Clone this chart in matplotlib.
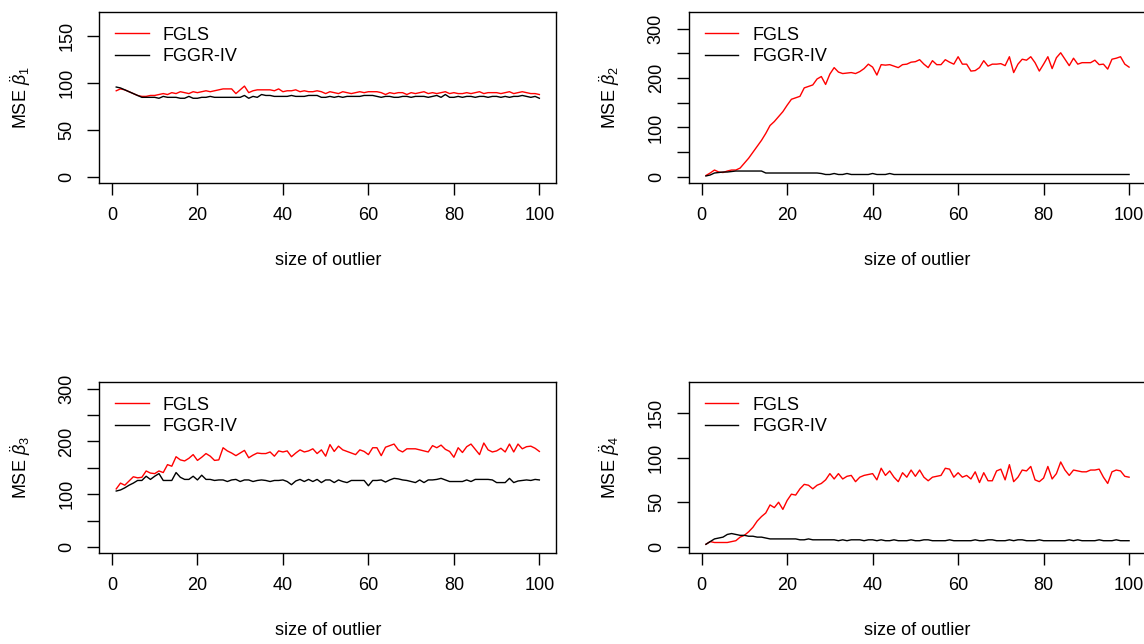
import matplotlib.pyplot as plt
import numpy as np

plt.rcParams['font.family'] = ['Liberation Sans', 'DejaVu Sans']
plt.rcParams['mathtext.fontset'] = 'custom'
plt.rcParams['mathtext.rm'] = 'Liberation Sans'
plt.rcParams['mathtext.it'] = 'Liberation Sans:italic'

# size of outlier 1..100
x = np.arange(1, 101)

fgls_b1 = [92, 94, 93, 91, 89, 87, 86, 86, 87, 87,
           88, 89, 88, 90, 89, 91, 90, 89, 91, 90,
           91, 92, 91, 92, 93, 94, 94, 94, 89, 93,
           97, 90, 92, 93, 93, 93, 93, 92, 94, 91,
           92, 92, 93, 91, 92, 91, 91, 92, 91, 89,
           91, 90, 89, 91, 90, 89, 90, 91, 90, 91,
           91, 91, 90, 88, 90, 89, 90, 90, 88, 90,
           89, 90, 91, 89, 90, 89, 90, 91, 89, 90,
           89, 89, 90, 89, 90, 91, 89, 90, 90, 90,
           89, 90, 91, 89, 90, 91, 90, 89, 89, 88]
fggr_b1 = [96, 95, 93, 91, 89, 87, 85, 85, 85, 85,
           84, 86, 85, 85, 85, 84, 84, 86, 84, 84,
           85, 85, 86, 85, 85, 85, 85, 85, 85, 85,
           87, 84, 86, 85, 88, 87, 87, 86, 86, 86,
           86, 87, 86, 86, 86, 87, 87, 87, 85, 85,
           86, 85, 86, 85, 86, 86, 86, 86, 87, 87,
           87, 86, 85, 86, 86, 85, 85, 86, 86, 85,
           86, 86, 86, 85, 86, 87, 85, 88, 85, 85,
           86, 85, 86, 86, 85, 86, 86, 85, 86, 86,
           85, 86, 85, 86, 86, 87, 86, 85, 86, 84]

fgls_b2 = [3, 8, 14, 10, 9, 12, 14, 14, 18, 28,
           38, 50, 62, 74, 88, 104, 112, 122, 132, 145,
           157, 160, 163, 180, 183, 186, 198, 203, 187, 208,
           221, 212, 209, 210, 211, 209, 213, 219, 228, 222,
           206, 227, 226, 227, 224, 221, 227, 228, 232, 233,
           237, 228, 221, 235, 227, 227, 237, 232, 228, 243,
           228, 228, 214, 215, 221, 235, 224, 228, 228, 229,
           225, 243, 211, 228, 238, 236, 243, 231, 214, 228,
           243, 219, 241, 251, 238, 225, 240, 228, 231, 231,
           231, 236, 227, 228, 218, 238, 240, 243, 228, 222]
fggr_b2 = [2, 4, 8, 9, 10, 10, 11, 12, 12, 12,
           12, 12, 12, 12, 8, 8, 8, 8, 8, 8,
           8, 8, 8, 8, 8, 8, 8, 7, 5, 5,
           7, 5, 5, 7, 5, 5, 5, 5, 5, 7,
           5, 5, 5, 7, 5, 5, 5, 5, 5, 5,
           5, 5, 5, 5, 5, 5, 5, 5, 5, 5,
           5, 5, 5, 5, 5, 5, 5, 5, 5, 5,
           5, 5, 5, 5, 5, 5, 5, 5, 5, 5,
           5, 5, 5, 5, 5, 5, 5, 5, 5, 5,
           5, 5, 5, 5, 5, 5, 5, 5, 5, 5]

fgls_b3 = [110, 121, 117, 125, 133, 131, 132, 144, 140, 139,
           144, 141, 156, 153, 171, 165, 163, 168, 175, 164,
           170, 177, 172, 164, 165, 188, 182, 178, 173, 178,
           183, 169, 174, 178, 177, 177, 180, 172, 182, 180,
           182, 171, 178, 184, 180, 182, 186, 177, 184, 172,
           194, 181, 191, 184, 181, 178, 175, 184, 181, 175,
           188, 188, 173, 189, 192, 195, 184, 180, 186, 186,
           186, 184, 182, 180, 192, 188, 193, 185, 181, 170,
           188, 179, 190, 195, 185, 175, 197, 184, 180, 182,
           187, 180, 195, 180, 195, 186, 190, 191, 187, 181]
fggr_b3 = [106, 108, 112, 117, 121, 126, 126, 134, 128, 134,
           139, 126, 126, 126, 141, 132, 128, 128, 134, 127,
           136, 128, 128, 126, 127, 127, 124, 127, 128, 124,
           127, 127, 124, 126, 127, 126, 124, 126, 126, 127,
           124, 118, 125, 128, 124, 128, 124, 128, 122, 127,
           127, 122, 127, 124, 122, 126, 126, 126, 126, 116,
           126, 126, 127, 123, 127, 130, 129, 127, 126, 124,
           122, 127, 122, 127, 127, 128, 130, 127, 124, 124,
           124, 124, 127, 124, 128, 128, 128, 128, 127, 122,
           122, 122, 130, 122, 125, 126, 127, 126, 128, 127]

fgls_b4 = [3, 6, 5, 5, 5, 5, 6, 7, 11, 13,
           17, 22, 29, 34, 38, 47, 44, 50, 42, 52,
           59, 58, 65, 70, 69, 65, 69, 71, 75, 82,
           76, 82, 76, 79, 80, 73, 78, 80, 81, 82,
           75, 88, 80, 85, 78, 73, 83, 78, 86, 79,
           86, 78, 74, 78, 79, 80, 88, 87, 78, 83,
           78, 80, 76, 84, 72, 83, 74, 74, 85, 87,
           75, 92, 73, 78, 86, 85, 90, 75, 73, 77,
           90, 76, 82, 95, 86, 80, 86, 85, 84, 84,
           86, 86, 87, 78, 71, 84, 86, 85, 79, 78]
fggr_b4 = [3, 6, 9, 10, 11, 14, 15, 14, 13, 13,
           12, 12, 11, 11, 10, 9, 9, 9, 9, 9,
           9, 9, 8, 8, 9, 8, 8, 8, 8, 8,
           8, 7, 8, 7, 8, 8, 8, 7, 8, 8,
           7, 8, 7, 7, 8, 7, 7, 7, 8, 7,
           7, 8, 8, 7, 7, 7, 7, 8, 7, 7,
           7, 7, 7, 8, 7, 7, 8, 8, 7, 7,
           7, 8, 7, 8, 8, 7, 7, 7, 8, 7,
           7, 7, 7, 7, 7, 8, 7, 8, 7, 7,
           7, 7, 8, 7, 7, 7, 8, 7, 7, 7]

panels = [
    (fgls_b1, fggr_b1, r'MSE $\ddot{\beta}_1$', 169, [0, 50, 100, 150], [0, 50, 100, 150]),
    (fgls_b2, fggr_b2, r'MSE $\ddot{\beta}_2$', 320, [0, 50, 100, 150, 200, 250, 300], [0, 100, 200, 300]),
    (fgls_b3, fggr_b3, r'MSE $\ddot{\beta}_3$', 300, [0, 50, 100, 150, 200, 250, 300], [0, 100, 200, 300]),
    (fgls_b4, fggr_b4, r'MSE $\ddot{\beta}_4$', 177, [0, 50, 100, 150], [0, 50, 100, 150]),
]

W, H = 1144, 644
fig = plt.figure(figsize=(W / 100, H / 100), dpi=100)

# axes boxes in pixels: left, top
box_w, box_h = 457, 171
corners = [(99.3, 12.3), (689, 12.3), (99.3, 382.3), (689, 382.3)]

for (red, black, ylab, ymax, yt, ylabs), (lx, ty) in zip(panels, corners):
    ax = fig.add_axes([lx / W, 1 - (ty + box_h) / H, box_w / W, box_h / H])
    ax.plot(x, red, color='#ff0000', lw=1.0, label='FGLS')
    ax.plot(x, black, color='black', lw=1.0, label='FGGR-IV')
    ax.set_xlim(1 - 0.04 * 99, 100 + 0.04 * 99)
    ax.set_ylim(-0.04 * ymax, ymax * 1.04)
    ax.set_xticks([0, 20, 40, 60, 80, 100])
    ax.set_yticks(yt)
    ax.set_yticklabels([str(v) if v in ylabs else '' for v in yt])
    ax.tick_params(direction='out', length=8.4, width=1.0, labelsize=13, pad=9)
    for lab in ax.get_yticklabels():
        lab.set_rotation(90)
        lab.set_va('center')
        lab.set_ha('right')
    for sp in ax.spines.values():
        sp.set_linewidth(1.0)
    ax.set_xlabel('size of outlier', fontsize=13)
    ax.xaxis.set_label_coords(0.5, -77 / box_h)
    ax.xaxis.label.set_va('center')
    ax.set_ylabel(ylab, fontsize=13)
    ax.yaxis.set_label_coords(-79 / box_w, 0.5)
    ax.yaxis.label.set_va('center')
    ax.legend(loc='upper left', bbox_to_anchor=(16 / box_w, 1 - 14.5 / box_h),
              frameon=False, fontsize=13, borderpad=0, borderaxespad=0,
              handlelength=1.84, handletextpad=0.8, labelspacing=0.25)

fig.savefig('out.png', dpi=100)
